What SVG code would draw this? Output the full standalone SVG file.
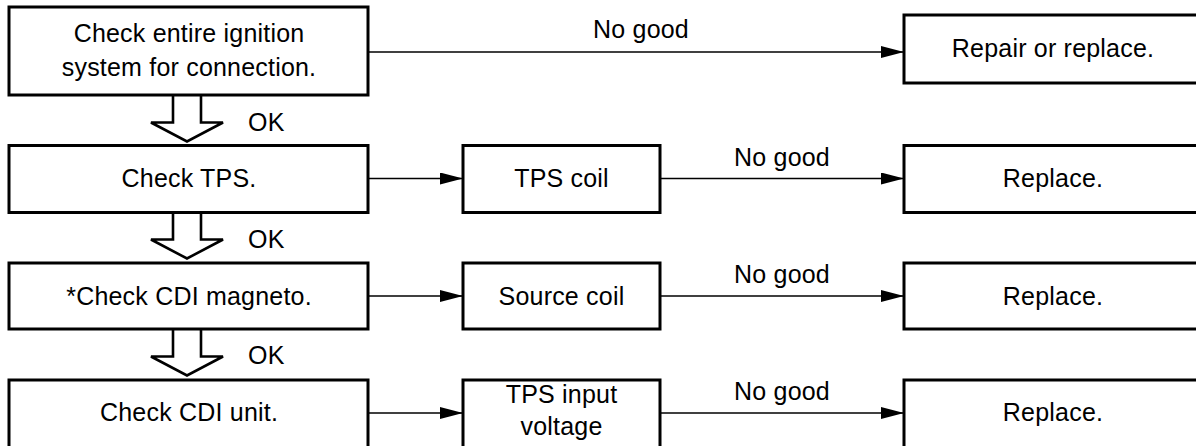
<svg xmlns="http://www.w3.org/2000/svg" width="1196" height="446" viewBox="0 0 1196 446">
<style>
.box{fill:#fff;stroke:#000;stroke-width:3}
.t{font-family:"Liberation Sans",Arial,Helvetica,sans-serif;font-size:25px;fill:#000;letter-spacing:0.2px}
.c{text-anchor:middle}
.conn{stroke:#000;stroke-width:1.4;fill:none;marker-end:url(#ah)}
.big{fill:#fff;stroke:#000;stroke-width:2.6;stroke-linejoin:miter}
</style>
<defs>
<marker id="ah" markerUnits="userSpaceOnUse" markerWidth="24" markerHeight="12" refX="23" refY="6" orient="auto">
<path d="M0,0 L23,6 L0,12 z" fill="#000"/>
</marker>
</defs>
<rect width="1196" height="446" fill="#fff"/>
<g id="connectors">
<line class="conn" x1="368" y1="52" x2="904" y2="52"/>
<line class="conn" x1="368" y1="178.5" x2="463" y2="178.5"/>
<line class="conn" x1="660" y1="178.5" x2="904" y2="178.5"/>
<line class="conn" x1="368" y1="296" x2="463" y2="296"/>
<line class="conn" x1="660" y1="296" x2="904" y2="296"/>
<line class="conn" x1="368" y1="413" x2="463" y2="413"/>
<line class="conn" x1="660" y1="413" x2="904" y2="413"/>
<text class="t c" x="641" y="38">No good</text>
<text class="t c" x="782" y="166">No good</text>
<text class="t c" x="782" y="283">No good</text>
<text class="t c" x="782" y="400">No good</text>
<path class="big" d="M173,95.5 V122.5 H151 L187,141.5 L223,122.5 H201 V95.5"/>
<path class="big" d="M173,212.5 V239.5 H151 L187,258.5 L223,239.5 H201 V212.5"/>
<path class="big" d="M173,329.5 V356.5 H151 L187,375.5 L223,356.5 H201 V329.5"/>
<text class="t" x="248" y="131">OK</text>
<text class="t" x="248" y="248">OK</text>
<text class="t" x="248" y="364">OK</text>
</g>
<g id="n1">
<rect class="box" x="9" y="7" width="359" height="88"/>
<text class="t c" x="189" y="42">Check entire ignition</text>
<text class="t c" x="189" y="76">system for connection.</text>
</g>
<g id="n2">
<rect class="box" x="9" y="145.5" width="359" height="67"/>
<text class="t c" x="189" y="187">Check TPS.</text>
</g>
<g id="n3">
<rect class="box" x="9" y="263" width="359" height="66"/>
<text class="t c" x="189" y="305">*Check CDI magneto.</text>
</g>
<g id="n4">
<rect class="box" x="9" y="380" width="359" height="80"/>
<text class="t c" x="189" y="421">Check CDI unit.</text>
</g>
<g id="m2">
<rect class="box" x="463" y="145.5" width="197" height="67"/>
<text class="t c" x="561.5" y="187">TPS coil</text>
</g>
<g id="m3">
<rect class="box" x="463" y="263" width="197" height="66"/>
<text class="t c" x="561.5" y="305">Source coil</text>
</g>
<g id="m4">
<rect class="box" x="463" y="380" width="197" height="80"/>
<text class="t c" x="561.5" y="403">TPS input</text>
<text class="t c" x="561.5" y="435">voltage</text>
</g>
<g id="r1">
<rect class="box" x="904" y="15" width="310" height="68"/>
<text class="t c" x="1053" y="57">Repair or replace.</text>
</g>
<g id="r2">
<rect class="box" x="904" y="145.5" width="310" height="67"/>
<text class="t c" x="1053" y="187">Replace.</text>
</g>
<g id="r3">
<rect class="box" x="904" y="263" width="310" height="66"/>
<text class="t c" x="1053" y="305">Replace.</text>
</g>
<g id="r4">
<rect class="box" x="904" y="380" width="310" height="80"/>
<text class="t c" x="1053" y="421">Replace.</text>
</g>
</svg>
